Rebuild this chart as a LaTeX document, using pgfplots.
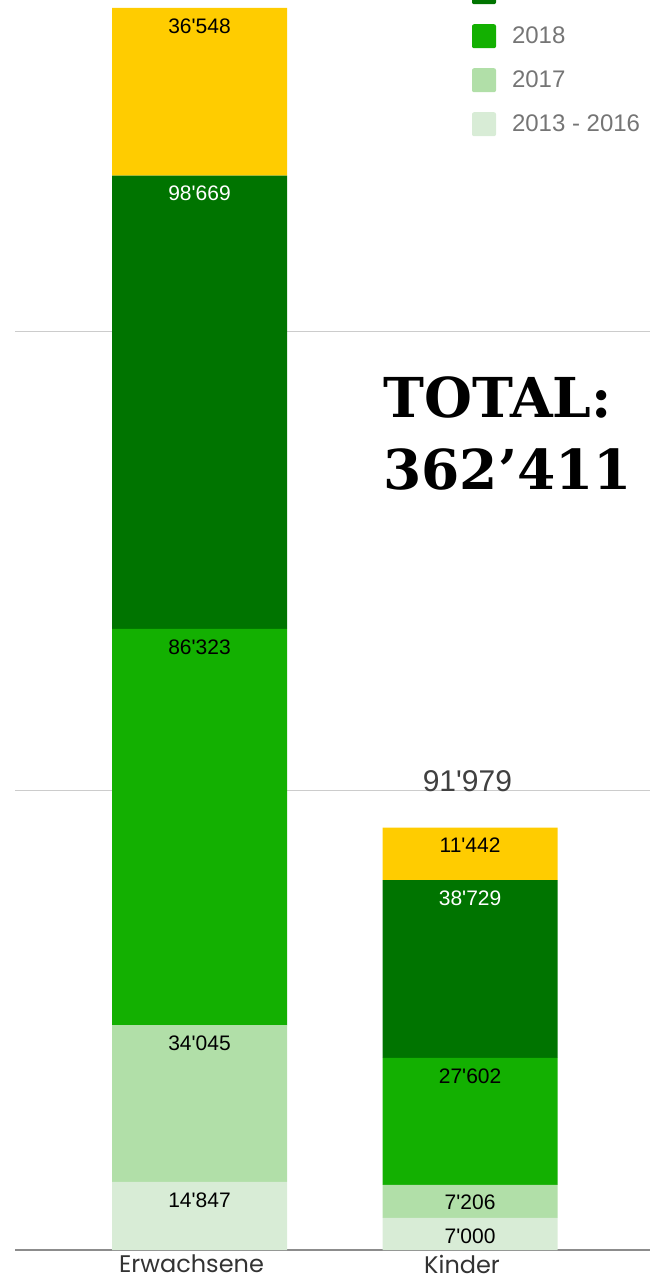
\documentclass[border=0pt]{standalone}
\usepackage{fontspec}
\setmainfont{Liberation Sans}
\newfontfamily\catfont{Poppins}
\newfontfamily\totalfont{DejaVu Serif}
\usepackage{pgfplots}
\usepackage{pgfplotstable}
\pgfplotsset{compat=1.18}

\definecolor{cYellow}{HTML}{FFCC00}
\definecolor{cDark}{HTML}{007400}
\definecolor{cMid}{HTML}{13B001}
\definecolor{cLight}{HTML}{B1DFA8}
\definecolor{cPale}{HTML}{D8ECD6}
\definecolor{cLegText}{HTML}{757575}

% x: 0 = Erwachsene, 1 = Kinder
\pgfplotstableread{
x y
0 14847
1 7000
}\tOld
\pgfplotstableread{
x y
0 34045
1 7206
}\tSeventeen
\pgfplotstableread{
x y
0 86323
1 27602
}\tEighteen
\pgfplotstableread{
x y
0 98669
1 38729
}\tNineteen
\pgfplotstableread{
x y
0 36548
1 11442
}\tTwenty

\begin{document}
\begin{tikzpicture}
\begin{axis}[
  scale only axis, width=317.5pt, height=625pt,
  ybar stacked, bar width=87.5pt,
  xmin=-0.682, xmax=1.665, ymin=0, ymax=272150,
  axis line style={draw=none}, major tick length=0pt,
  xtick={0,1}, xticklabels={Erwachsene,Kinder},
  xticklabel style={font=\catfont\fontsize{12}{14}\selectfont, text=black!80, xshift=-4pt, yshift=1pt},
  ytick={100000,200000}, yticklabels={}, ymajorgrids,
  major grid style={color=black!20, line width=0.6pt},
  clip=false,
  point meta=explicit,
  /pgf/number format/.cd, 1000 sep={\textquotesingle}, assume math mode=true,
  /pgfplots/.cd,
  % labels sit near the top of each segment: shift up by half the segment height
  visualization depends on={\thisrow{y}*0.00114826 \as \halfh},
  nodes near coords={\pgfmathprintnumber{\pgfplotspointmeta}},
  every node near coord/.style={anchor=center, yshift=\halfh pt-9pt, font=\fontsize{10.5}{12}\selectfont, text=black},
  reverse legend,
  legend style={at={(0.7197,1.051)}, anchor=north west, draw=none, fill=none,
    inner sep=0pt, outer sep=0pt, row sep=10pt,
    font=\fontsize{12}{14}\selectfont, text=cLegText,
    nodes={inner sep=0pt}},
  legend cell align=left,
  legend image code/.code={\fill[#1, rounded corners=1pt] (0pt,-6pt) rectangle (12pt,6pt);},
  /tikz/every odd column/.append style={column sep=8pt},
]
\addplot[fill=cPale, draw=none] table[x=x, y=y, meta=y] {\tOld};
\addplot[fill=cLight, draw=none] table[x=x, y=y, meta=y] {\tSeventeen};
\addplot[fill=cMid, draw=none] table[x=x, y=y, meta=y] {\tEighteen};
\addplot[fill=cDark, draw=none, every node near coord/.append style={text=white}] table[x=x, y=y, meta=y] {\tNineteen};
\addplot[fill=cYellow, draw=none] table[x=x, y=y, meta=y] {\tTwenty};
\legend{2013 - 2016, 2017, 2018, 2019, 2020}

\draw[color=black!45, line width=0.6pt] (rel axis cs:0,0) -- (rel axis cs:1,0);
\node[anchor=base, text=black!75, font=\fontsize{15}{18}\selectfont, inner sep=0pt] at (axis cs:0.99,99930) {91\textquotesingle979};
\node[anchor=base west, inner sep=0pt, font=\totalfont\bfseries\fontsize{27.5}{32}\selectfont] at (axis cs:0.678,181143) {TOTAL:};
\node[anchor=base west, inner sep=0pt, font=\totalfont\bfseries\fontsize{27.5}{32}\selectfont] at (axis cs:0.678,165467) {362’411};

\coordinate (BL) at (rel axis cs:0,0);
\coordinate (TR) at (rel axis cs:1,1);
\end{axis}
\pgfresetboundingbox
\path ([shift={(-7.5pt,-16pt)}]BL) rectangle (TR);
\end{tikzpicture}
\end{document}
